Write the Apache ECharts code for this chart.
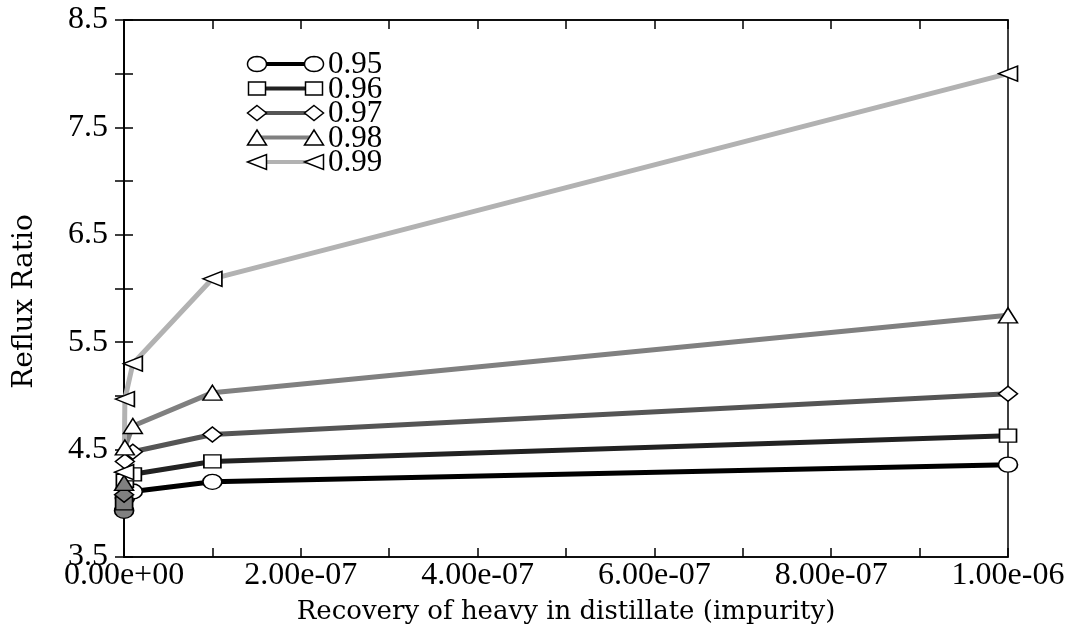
<!DOCTYPE html>
<html>
<head>
<meta charset="utf-8">
<title>Reflux Ratio vs Recovery of heavy in distillate</title>
<script src="https://cdn.jsdelivr.net/npm/echarts@6/dist/echarts.min.js"></script>
<style>
  html, body { margin: 0; padding: 0; background: #fff; }
  #chart { width: 1074px; height: 640px; }
</style>
</head>
<body>
<div id="chart"></div>
<script>
// Impurity level (recovery of heavy key in distillate)
const xValues = [1e-10, 1e-9, 1e-8, 1e-7, 1e-6];

// Reflux ratio for each light-key recovery
const seriesNames = ['0.95', '0.96', '0.97', '0.98', '0.99'];
const r095 = [3.93, 4.05, 4.11, 4.20, 4.36];
const r096 = [4.00, 4.21, 4.27, 4.39, 4.63];
const r097 = [4.08, 4.39, 4.48, 4.64, 5.02];
const r098 = [4.19, 4.52, 4.72, 5.03, 5.75];
const r099 = [4.29, 4.97, 5.30, 6.09, 8.00];
const seriesValues = [r095, r096, r097, r098, r099];

// Axis tick labels
const yTickLabels = ['3.5', '4.5', '5.5', '6.5', '7.5', '8.5'];
const xTickLabels = ['0.00e+00', '2.00e-07', '4.00e-07', '6.00e-07', '8.00e-07', '1.00e-06'];

// Styling
const lineColors = ['#000000', '#222222', '#555555', '#808080', '#b2b2b2'];
const symbolKinds = ['ellipse', 'square', 'diamond', 'triangle', 'leftTriangle'];
const symbolPaths = {
  ellipse: 'path://M0,50 A50,50 0 1,1 100,50 A50,50 0 1,1 0,50 Z',
  square: 'rect',
  diamond: 'diamond',
  triangle: 'triangle',
  leftTriangle: 'path://M0,50 L100,0 L100,100 Z'
};
const symbolSizes = [[19, 15], [17, 13], [19, 15], [19, 15], [19, 15]];
const filledFirst = [true, true, true, true, false];
const TICK_FONT = '"Liberation Serif", serif';
const TITLE_FONT = '"DejaVu Serif", serif';

const GRID = { left: 124, right: 66, top: 20, bottom: 83 };

const series = seriesNames.map((name, i) => ({
  name: name,
  type: 'line',
  symbol: symbolPaths[symbolKinds[i]],
  symbolSize: symbolSizes[i],
  symbolKeepAspect: false,
  showAllSymbol: true,
  animation: false,
  lineStyle: { color: lineColors[i], width: 5 },
  itemStyle: { color: '#ffffff', borderColor: '#000000', borderWidth: 1.5 },
  emphasis: { disabled: true },
  data: xValues.map((x, k) => {
    const item = { value: [x, seriesValues[i][k]] };
    if (k === 0 && filledFirst[i]) {
      item.itemStyle = { color: '#808080', borderColor: '#000000', borderWidth: 1.5 };
    }
    return item;
  })
}));

// Legend marker outline as a polygon centred on (cx, cy)
function markerPoints(kind, cx, cy, w, h) {
  const hw = w / 2, hh = h / 2;
  switch (kind) {
    case 'ellipse': {
      const pts = [];
      for (let a = 0; a < 32; a++) {
        const t = a / 32 * Math.PI * 2;
        pts.push([cx + hw * Math.cos(t), cy + hh * Math.sin(t)]);
      }
      return pts;
    }
    case 'square':
      return [[cx - hw, cy - hh], [cx + hw, cy - hh], [cx + hw, cy + hh], [cx - hw, cy + hh]];
    case 'diamond':
      return [[cx, cy - hh], [cx + hw, cy], [cx, cy + hh], [cx - hw, cy]];
    case 'triangle':
      return [[cx, cy - hh], [cx + hw, cy + hh], [cx - hw, cy + hh]];
    default:
      return [[cx - hw, cy], [cx + hw, cy - hh], [cx + hw, cy + hh]];
  }
}

// Legend drawn inside the plot: sample line with a marker at each end
const legendX0 = 257, legendX1 = 314, legendY0 = 64, legendDy = 24.5;
const graphics = [];
seriesNames.forEach((name, i) => {
  const y = legendY0 + i * legendDy;
  graphics.push({
    type: 'line', silent: true, z: 10,
    shape: { x1: legendX0, y1: y, x2: legendX1, y2: y },
    style: { stroke: lineColors[i], lineWidth: 4 }
  });
  [legendX0, legendX1].forEach((cx) => {
    graphics.push({
      type: 'polygon', silent: true, z: 11,
      shape: { points: markerPoints(symbolKinds[i], cx, y, symbolSizes[i][0], symbolSizes[i][1]) },
      style: { fill: '#ffffff', stroke: '#000000', lineWidth: 1.5 }
    });
  });
  graphics.push({
    type: 'text', silent: true, z: 12,
    x: 328, y: y + 1,
    style: {
      text: name,
      font: '31px ' + TICK_FONT, fill: '#000',
      verticalAlign: 'middle', textVerticalAlign: 'middle'
    }
  });
});

const chart = echarts.init(document.getElementById('chart'), null, { renderer: 'canvas' });

const axisLine = { show: true, lineStyle: { color: '#000', width: 1.5 } };
const tick = { show: true, inside: true, length: 9, lineStyle: { color: '#000', width: 1.5 } };

chart.setOption({
  backgroundColor: '#ffffff',
  animation: false,
  grid: Object.assign({
    show: true, borderColor: '#000', borderWidth: 1.5,
    containLabel: false, outerBoundsMode: 'none'
  }, GRID),
  xAxis: [{
    type: 'value',
    min: 0, max: 1e-6, interval: 1e-7,
    axisLine: axisLine, axisTick: tick,
    splitLine: { show: false },
    axisLabel: {
      margin: 3,
      color: '#000',
      fontFamily: TICK_FONT, fontSize: 32,
      formatter: (v) => {
        const idx = Math.round(v / 2e-7);
        return Math.abs(v - idx * 2e-7) < 1e-12 ? xTickLabels[idx] : '';
      }
    },
    name: 'Recovery of heavy in distillate (impurity)',
    nameLocation: 'middle',
    nameGap: 42,
    nameTextStyle: { color: '#000', fontFamily: TITLE_FONT, fontSize: 26 }
  }, {
    type: 'value', position: 'top',
    min: 0, max: 1e-6, interval: 1e-7,
    axisLine: axisLine, axisTick: tick,
    axisLabel: { show: false }, splitLine: { show: false }
  }],
  yAxis: [{
    type: 'value',
    min: 3.5, max: 8.5, interval: 0.5,
    axisLine: axisLine, axisTick: tick,
    splitLine: { show: false },
    axisLabel: {
      margin: 16,
      color: '#000',
      fontFamily: TICK_FONT, fontSize: 32,
      formatter: (v) => {
        const k = Math.round((v - 3.5) * 2);
        return k % 2 === 0 ? yTickLabels[k / 2] : '';
      }
    },
    name: 'Reflux Ratio',
    nameLocation: 'middle',
    nameGap: 85,
    nameTextStyle: { color: '#000', fontFamily: TITLE_FONT, fontSize: 28, padding: [0, 26, 0, 0] }
  }, {
    type: 'value', position: 'right',
    min: 3.5, max: 8.5, interval: 0.5,
    axisLine: axisLine, axisTick: tick,
    axisLabel: { show: false }, splitLine: { show: false }
  }],
  graphic: graphics,
  series: series
});
</script>
</body>
</html>
